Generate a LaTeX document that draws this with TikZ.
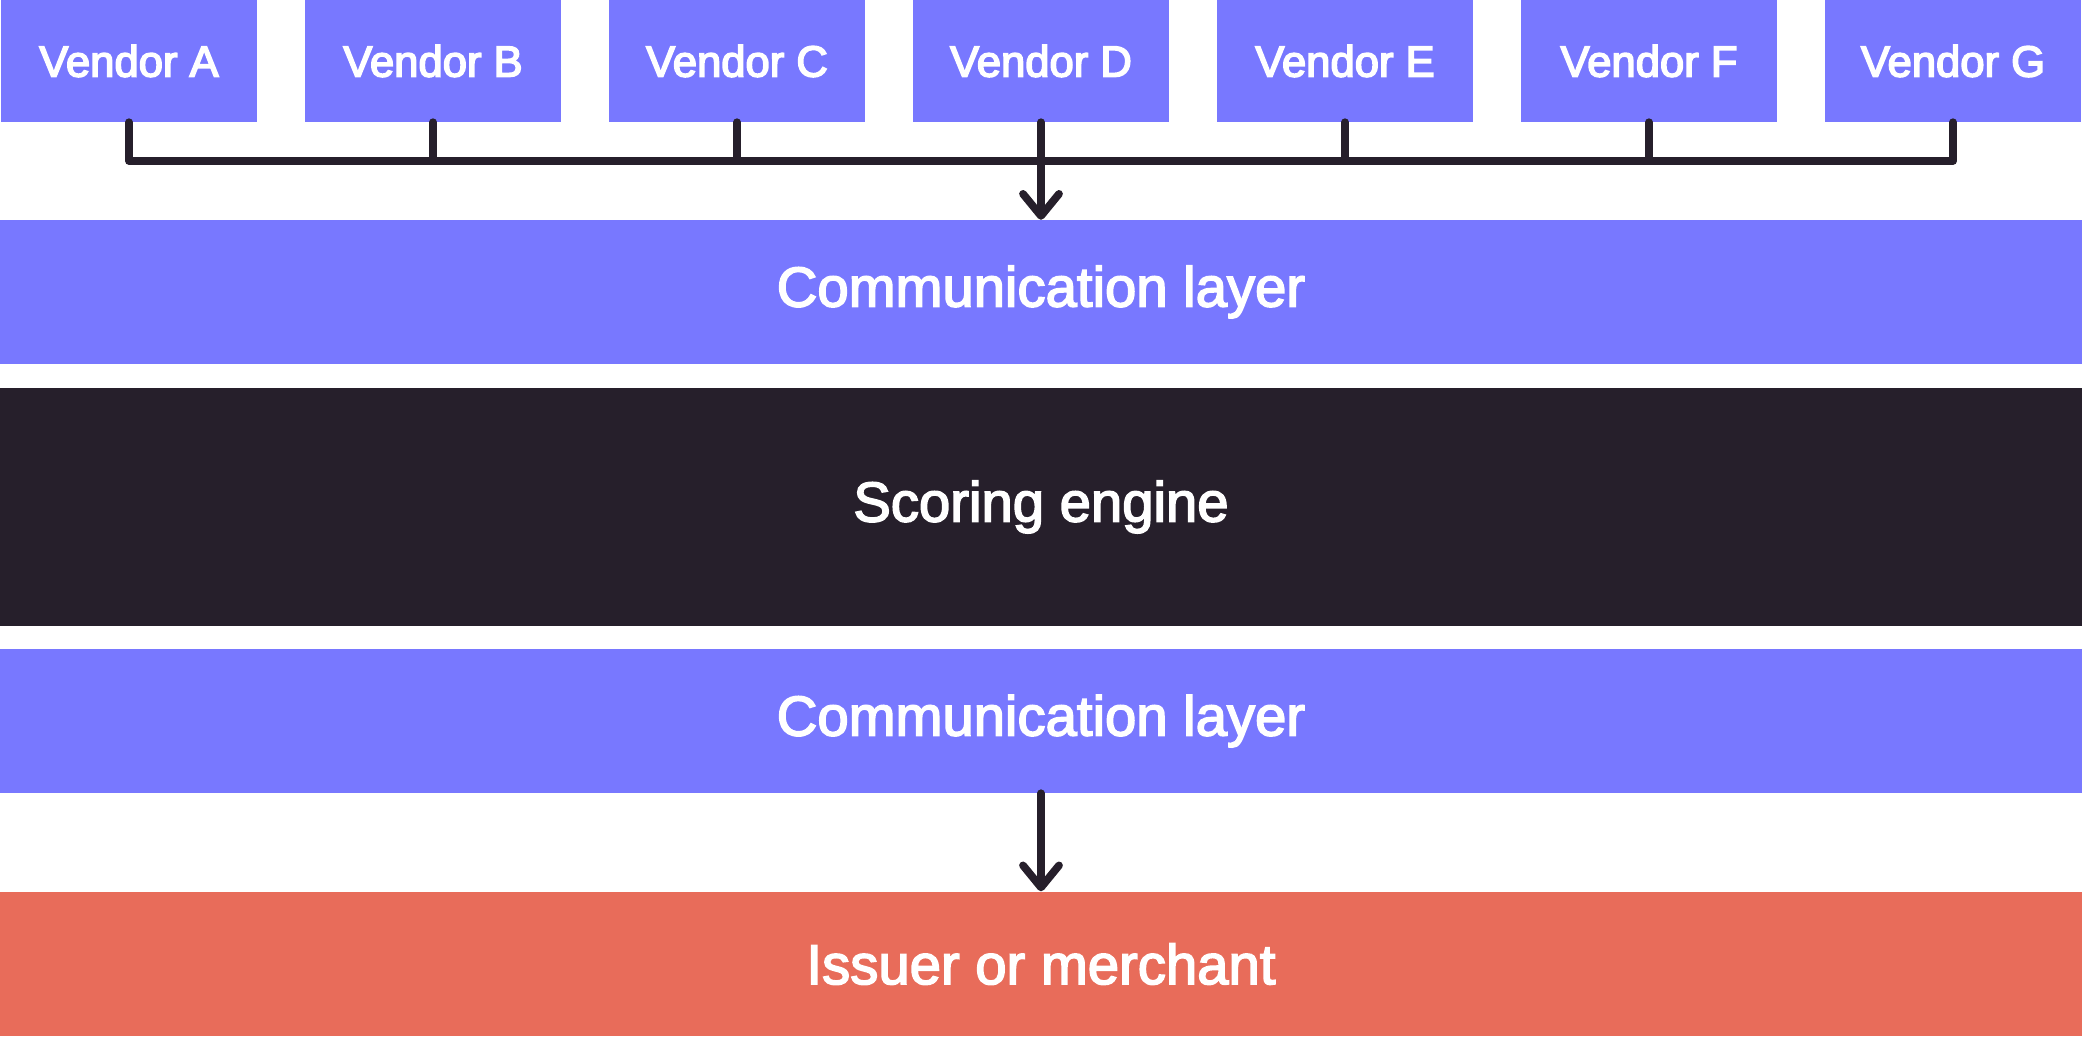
\documentclass[tikz,border=0pt]{standalone}
\usepackage{fontspec}
\setmainfont{Liberation Sans}
\usetikzlibrary{arrows.meta}
\definecolor{layerblue}{HTML}{7878FF}
\definecolor{enginedark}{HTML}{261F2B}
\definecolor{issuerred}{HTML}{E86C5A}
% slightly heavier labels: fill and stroke the glyphs
\newcommand\heavylabel[1]{\special{pdf:literal direct 2 Tr 0.45 w}#1\special{pdf:literal direct 0 Tr}}

\begin{document}
\begin{tikzpicture}[x=0.01cm,y=-0.01cm,>={Straight Barb[length=2.2mm,width=3.6mm,round]},
  bus/.style={draw=enginedark,line width=2.2pt,line cap=round,line join=round},
  vendor node/.style={rectangle,fill=layerblue,text=white,inner sep=0pt,
    minimum width=2.56cm,minimum height=1.21cm,font=\fontsize{12.4}{14}\selectfont},
  layer node/.style={rectangle,fill=layerblue,text=white,inner sep=0pt,
    minimum width=20.8cm,minimum height=1.43cm,font=\fontsize{16}{18}\selectfont}]

  \useasboundingbox (0,0) rectangle (2083,1036);

  \node[vendor node] (vA) at (129,61) {\heavylabel{Vendor A}};
  \node[vendor node] (vB) at (433,61) {\heavylabel{Vendor B}};
  \node[vendor node] (vC) at (737,61) {\heavylabel{Vendor C}};
  \node[vendor node] (vD) at (1041,61) {\heavylabel{Vendor D}};
  \node[vendor node] (vE) at (1345,61) {\heavylabel{Vendor E}};
  \node[vendor node] (vF) at (1649,61) {\heavylabel{Vendor F}};
  \node[vendor node] (vG) at (1953,61) {\heavylabel{Vendor G}};

  \node[layer node] (comm1) at (1041,292) {\heavylabel{Communication layer}};
  \node[layer node,fill=enginedark,minimum height=2.37cm] (engine) at (1041,507) {\heavylabel{Scoring engine}};
  \node[layer node] (comm2) at (1041,721) {\heavylabel{Communication layer}};
  \node[layer node,fill=issuerred,minimum height=1.44cm] (issuer) at (1041,964) {\heavylabel{Issuer or merchant}};

  \coordinate (bus) at (0,161);

  \draw[bus] (vA.south) |- (bus -| vG.south) -- (vG.south);
  \draw[bus] (vB.south) -- (vB.south |- bus);
  \draw[bus] (vC.south) -- (vC.south |- bus);
  \draw[bus] (vE.south) -- (vE.south |- bus);
  \draw[bus] (vF.south) -- (vF.south |- bus);
  \draw[bus,->] (vD.south) -- (comm1.north);
  \draw[bus,->] (comm2.south) -- (issuer.north);

\end{tikzpicture}
\end{document}
